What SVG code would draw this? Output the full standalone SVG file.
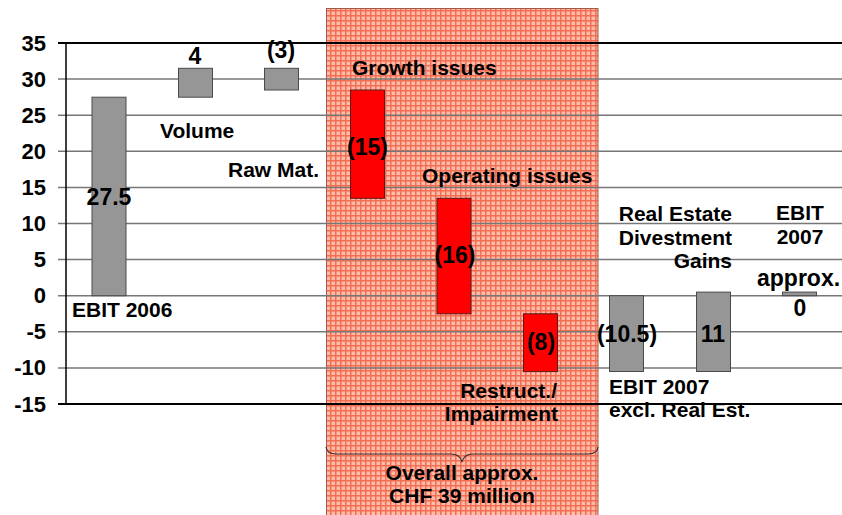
<svg xmlns="http://www.w3.org/2000/svg" width="842" height="515" viewBox="0 0 842 515">
<style>
text{font-family:"Liberation Sans",Arial,sans-serif;font-weight:bold;font-size:21px;fill:#000}
.ax{text-anchor:end;font-size:22px}
.mid{text-anchor:middle}
.end{text-anchor:end}
.val{font-size:23px}
.grid{stroke:#777;stroke-width:1.5}
.bar{fill:#969696;stroke:#4a4a4a;stroke-width:1}
.red{fill:#ff0000;stroke:#5a1a1a;stroke-width:1}
</style>
<defs>
<pattern id="hatch" width="5" height="5" patternUnits="userSpaceOnUse">
<rect width="5" height="5" fill="#fbbcaa"/>
<path d="M0,0.75H5M0.75,0V5" stroke="#f46c52" stroke-width="1.5"/>
</pattern>
</defs>
<rect width="842" height="515" fill="#fff"/>
<g id="highlight">
<rect x="326.5" y="8.5" width="271.5" height="507" fill="url(#hatch)" stroke="#a05a4a" stroke-width="1"/>
</g>
<g id="axis">
<g class="grid">
<line x1="58" y1="79.1" x2="842" y2="79.1"/>
<line x1="58" y1="115.2" x2="842" y2="115.2"/>
<line x1="58" y1="151.3" x2="842" y2="151.3"/>
<line x1="58" y1="187.4" x2="842" y2="187.4"/>
<line x1="58" y1="223.5" x2="842" y2="223.5"/>
<line x1="58" y1="259.6" x2="842" y2="259.6"/>
<line x1="58" y1="295.7" x2="842" y2="295.7"/>
<line x1="58" y1="331.8" x2="842" y2="331.8"/>
<line x1="58" y1="367.9" x2="842" y2="367.9"/>
</g>
<line x1="58" y1="43" x2="842" y2="43" stroke="#000" stroke-width="2"/>
<line x1="58" y1="404" x2="842" y2="404" stroke="#000" stroke-width="2"/>
<line x1="66" y1="43" x2="66" y2="404" stroke="#000" stroke-width="1.5"/>
<text class="ax" x="46" y="51">35</text>
<text class="ax" x="46" y="87">30</text>
<text class="ax" x="46" y="123">25</text>
<text class="ax" x="46" y="159">20</text>
<text class="ax" x="46" y="195">15</text>
<text class="ax" x="46" y="231">10</text>
<text class="ax" x="46" y="267">5</text>
<text class="ax" x="46" y="303">0</text>
<text class="ax" x="46" y="339">-5</text>
<text class="ax" x="46" y="375">-10</text>
<text class="ax" x="46" y="412">-15</text>
</g>
<g id="ebit2006">
<rect class="bar" x="92" y="97.2" width="34" height="198.5"/>
<text class="mid val" x="109" y="205">27.5</text>
<text x="72" y="317">EBIT 2006</text>
</g>
<g id="volume">
<rect class="bar" x="178.5" y="68.3" width="34" height="28.9"/>
<text class="mid val" x="195" y="64">4</text>
<text x="160" y="138">Volume</text>
</g>
<g id="rawmat">
<rect class="bar" x="264.5" y="68.3" width="34" height="21.7"/>
<text class="mid val" x="281" y="58">(3)</text>
<text x="228" y="177">Raw Mat.</text>
</g>
<g id="growth">
<rect class="red" x="350.5" y="90" width="34" height="108.3"/>
<text class="mid val" x="367.5" y="155">(15)</text>
<text x="352" y="75">Growth issues</text>
</g>
<g id="operating">
<rect class="red" x="437" y="198.3" width="34" height="115.5"/>
<text class="mid val" x="455" y="263">(16)</text>
<text x="422" y="183">Operating issues</text>
</g>
<g id="restruct">
<rect class="red" x="523.5" y="313.8" width="34" height="57.8"/>
<text class="mid val" x="541" y="350">(8)</text>
<text class="end" x="557" y="398">Restruct./</text>
<text class="end" x="558" y="421">Impairment</text>
</g>
<g id="ebit2007excl">
<rect class="bar" x="609.5" y="295.7" width="34" height="75.8"/>
<text class="mid val" x="627" y="342">(10.5)</text>
<text x="609" y="394">EBIT 2007</text>
<text x="609" y="417">excl. Real Est.</text>
</g>
<g id="realestate">
<rect class="bar" x="696.5" y="292.1" width="34" height="79.4"/>
<text class="mid val" x="713" y="342">11</text>
<text class="end" x="732" y="221">Real Estate</text>
<text class="end" x="732" y="245">Divestment</text>
<text class="end" x="732" y="268">Gains</text>
</g>
<g id="ebit2007">
<rect class="bar" x="782.5" y="292.1" width="34" height="3.6"/>
<text class="mid" x="800" y="220">EBIT</text>
<text class="mid" x="800" y="244">2007</text>
<text class="val" x="757" y="286">approx.</text>
<text class="mid val" x="800" y="316">0</text>
</g>
<g id="connectors">
<path d="M326,447 Q327,454 336,454 L451,454 Q460,454 462,462 Q464,454 473,454 L588,454 Q597,454 598,447" fill="none" stroke="#333" stroke-width="1.2"/>
<text class="mid" x="462" y="480">Overall approx.</text>
<text class="mid" x="462" y="503">CHF 39 million</text>
</g>
</svg>
